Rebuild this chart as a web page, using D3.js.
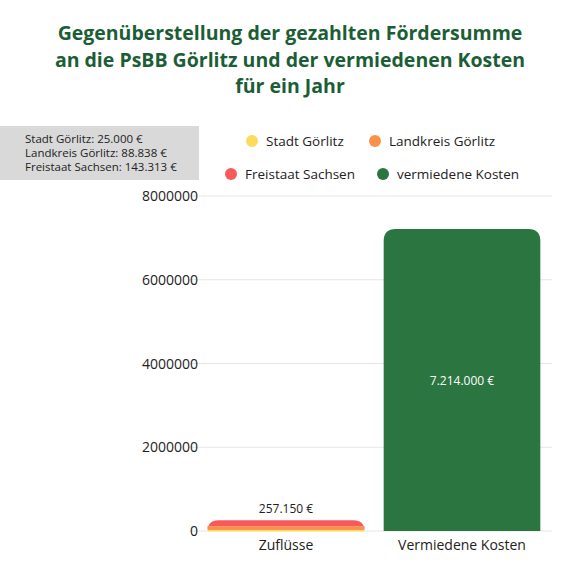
<!DOCTYPE html>
<html>
<head>
<meta charset="utf-8">
<script src="https://d3js.org/d3.v7.min.js"></script>
<style>body{margin:0;background:#fff;font-family:"Open Sans",sans-serif;}</style>
</head>
<body>
<script>
var categories = ["Zuflüsse", "Vermiedene Kosten"];
var series = ["Stadt Görlitz", "Landkreis Görlitz", "Freistaat Sachsen", "vermiedene Kosten"];
var colors = ["#fbdc5c", "#f9914a", "#f75a5a", "#2a7540"];
var stadt = [25000, 0];
var landkreis = [88838, 0];
var freistaat = [143313, 0];
var vermieden = [0, 7214000];
var totals = ["257.150 €", "7.214.000 €"];
var yTicks = [0, 2000000, 4000000, 6000000, 8000000];
var infoLines = ["Stadt Görlitz: 25.000 €", "Landkreis Görlitz: 88.838 €", "Freistaat Sachsen: 143.313 €"];

var svg = d3.select("body").append("svg").attr("width", 576).attr("height", 576);

var titleLines = ["Gegenüberstellung der gezahlten Fördersumme", "an die PsBB Görlitz und der vermiedenen Kosten", "für ein Jahr"];
svg.selectAll("text.title").data(titleLines).enter().append("text")
  .attr("x", 290).attr("y", (d, i) => 40 + i * 26.5)
  .attr("text-anchor", "middle").style("font-size", "19.5px").style("font-weight", "bold")
  .style("fill", "#1b5e35").text(d => d);

var x = d3.scaleBand().domain(categories).range([198, 550]).paddingInner(0.11).paddingOuter(0.055);
var y = d3.scaleLinear().domain([0, 8000000]).range([531, 196]);

svg.append("g").selectAll("line").data(yTicks).enter().append("line")
  .attr("x1", 190).attr("x2", 552).attr("y1", d => y(d)).attr("y2", d => y(d))
  .attr("stroke", "#e6e6e6");

svg.append("g").selectAll("text").data(yTicks).enter().append("text")
  .attr("x", 198).attr("y", d => y(d) + 5).attr("text-anchor", "end")
  .style("font-size", "14px").style("fill", "#222").text(d => d);

var rows = categories.map((c, i) => ({cat: c, v: [stadt[i], landkreis[i], freistaat[i], vermieden[i]]}));
var stack = d3.stack().keys([0, 1, 2, 3]).value((d, k) => d.v[k])(rows);

var bw = x.bandwidth();
stack.forEach(function (layer, k) {
  layer.forEach(function (seg, j) {
    if (seg[1] - seg[0] <= 0) return;
    var x0 = x(seg.data.cat), y0 = y(seg[0]), y1 = y(seg[1]);
    var isTop = stack.slice(k + 1).every(l => l[j][1] - l[j][0] <= 0);
    if (isTop) {
      var r = Math.min(12, y(0) - y1);
      svg.append("path").attr("fill", colors[k])
        .attr("d", "M" + x0 + "," + y0 + "V" + (y1 + r) + "Q" + x0 + "," + y1 + " " + (x0 + r) + "," + y1 +
          "H" + (x0 + bw - r) + "Q" + (x0 + bw) + "," + y1 + " " + (x0 + bw) + "," + (y1 + r) + "V" + y0 + "Z");
    } else {
      svg.append("rect").attr("x", x0).attr("y", y1).attr("width", bw).attr("height", Math.max(y0 - y1, 1.5)).attr("fill", colors[k]);
    }
  });
});

svg.append("text").attr("x", x(categories[0]) + bw / 2).attr("y", y(257150) - 7)
  .attr("text-anchor", "middle").style("font-size", "12px").style("fill", "#222").text(totals[0]);
svg.append("text").attr("x", x(categories[1]) + bw / 2).attr("y", y(7214000 / 2) + 5)
  .attr("text-anchor", "middle").style("font-size", "12px").style("fill", "#fff").text(totals[1]);

svg.append("g").selectAll("text").data(categories).enter().append("text")
  .attr("x", d => x(d) + bw / 2).attr("y", 550).attr("text-anchor", "middle")
  .style("font-size", "14px").style("fill", "#222").text(d => d);

// legend
var legPos = [[252, 141], [375, 141], [231, 174], [383, 174]];
var lg = svg.append("g").selectAll("g").data(series).enter().append("g")
  .attr("transform", (d, i) => "translate(" + legPos[i][0] + "," + legPos[i][1] + ")");
lg.append("circle").attr("r", 6).attr("fill", (d, i) => colors[i]);
lg.append("text").attr("x", 14).attr("y", 5).style("font-size", "13.5px").style("fill", "#222").text(d => d);

// info box
svg.append("rect").attr("x", 0).attr("y", 126).attr("width", 199).attr("height", 54).attr("fill", "#d9d9d9");
svg.selectAll("text.info").data(infoLines).enter().append("text")
  .attr("x", 25).attr("y", (d, i) => 143 + i * 14).style("font-size", "11.5px").style("fill", "#222").text(d => d);
</script>
</body>
</html>
